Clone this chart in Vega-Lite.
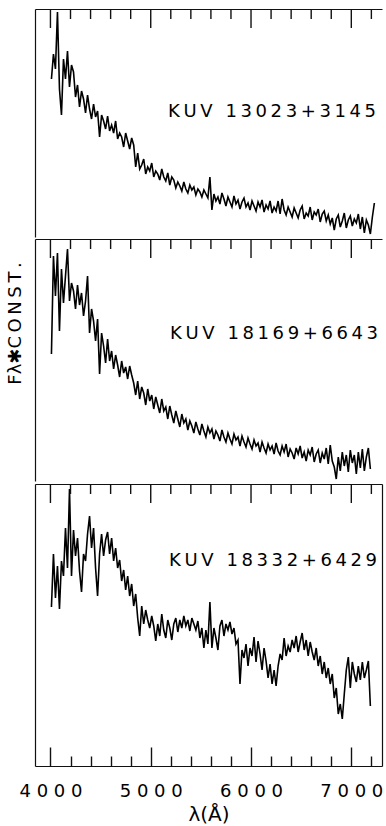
{
  "$schema": "https://vega.github.io/schema/vega-lite/v6.json",
  "padding": {"left": 6, "top": 8, "right": 1, "bottom": 0},
  "autosize": {"type": "pad"},
  "background": "white",
  "config": {
    "view": {"stroke": null},
    "axis": {"grid": false, "domainColor": "#111111", "domainWidth": 1.2, "tickColor": "#111111", "tickWidth": 1.4}
  },
  "datasets": {
    "tmaj": [{"w":4000},{"w":5000},{"w":6000},{"w":7000}],
    "tmin": [{"w":4200},{"w":4400},{"w":4600},{"w":4800},{"w":5200},{"w":5400},{"w":5600},{"w":5800},{"w":6200},{"w":6400},{"w":6600},{"w":6800},{"w":7200}],
    "a": [
      {"w":4010,"f":158},{"w":4030,"f":183},{"w":4050,"f":168},{"w":4070,"f":225},{"w":4090,"f":148},{"w":4110,"f":122},{"w":4130,"f":178},{"w":4150,"f":158},{"w":4170,"f":186},{"w":4190,"f":150},
      {"w":4210,"f":172},{"w":4230,"f":165},{"w":4250,"f":140},{"w":4270,"f":152},{"w":4290,"f":130},{"w":4310,"f":146},{"w":4330,"f":138},{"w":4350,"f":124},{"w":4370,"f":142},{"w":4390,"f":128},
      {"w":4410,"f":118},{"w":4430,"f":133},{"w":4450,"f":120},{"w":4470,"f":126},{"w":4490,"f":100},{"w":4510,"f":122},{"w":4530,"f":116},{"w":4550,"f":108},{"w":4570,"f":121},{"w":4590,"f":106},
      {"w":4610,"f":112},{"w":4630,"f":104},{"w":4650,"f":116},{"w":4670,"f":98},{"w":4690,"f":104},{"w":4710,"f":100},{"w":4730,"f":90},{"w":4750,"f":104},{"w":4770,"f":96},{"w":4790,"f":88},
      {"w":4810,"f":99},{"w":4830,"f":92},{"w":4850,"f":70},{"w":4870,"f":84},{"w":4890,"f":68},{"w":4910,"f":72},{"w":4930,"f":78},{"w":4950,"f":63},{"w":4970,"f":70},{"w":4990,"f":66},
      {"w":5010,"f":74},{"w":5030,"f":60},{"w":5050,"f":66},{"w":5070,"f":63},{"w":5090,"f":57},{"w":5110,"f":68},{"w":5130,"f":60},{"w":5150,"f":56},{"w":5170,"f":64},{"w":5190,"f":52},
      {"w":5210,"f":60},{"w":5230,"f":57},{"w":5250,"f":49},{"w":5270,"f":55},{"w":5290,"f":51},{"w":5310,"f":46},{"w":5330,"f":55},{"w":5350,"f":48},{"w":5370,"f":44},{"w":5390,"f":52},
      {"w":5410,"f":47},{"w":5430,"f":50},{"w":5450,"f":42},{"w":5470,"f":48},{"w":5490,"f":45},{"w":5510,"f":40},{"w":5530,"f":47},{"w":5550,"f":43},{"w":5570,"f":39},{"w":5590,"f":60},
      {"w":5610,"f":27},{"w":5630,"f":43},{"w":5650,"f":36},{"w":5670,"f":40},{"w":5690,"f":33},{"w":5710,"f":44},{"w":5730,"f":38},{"w":5750,"f":31},{"w":5770,"f":40},{"w":5790,"f":35},
      {"w":5810,"f":30},{"w":5830,"f":41},{"w":5850,"f":33},{"w":5870,"f":37},{"w":5890,"f":28},{"w":5910,"f":35},{"w":5930,"f":39},{"w":5950,"f":30},{"w":5970,"f":34},{"w":5990,"f":27},
      {"w":6010,"f":36},{"w":6030,"f":31},{"w":6050,"f":26},{"w":6070,"f":35},{"w":6090,"f":30},{"w":6110,"f":37},{"w":6130,"f":25},{"w":6150,"f":32},{"w":6170,"f":28},{"w":6190,"f":36},
      {"w":6210,"f":24},{"w":6230,"f":30},{"w":6250,"f":26},{"w":6270,"f":36},{"w":6290,"f":23},{"w":6310,"f":38},{"w":6330,"f":27},{"w":6350,"f":22},{"w":6370,"f":30},{"w":6390,"f":25},
      {"w":6410,"f":20},{"w":6430,"f":29},{"w":6450,"f":24},{"w":6470,"f":19},{"w":6490,"f":27},{"w":6510,"f":31},{"w":6530,"f":18},{"w":6550,"f":24},{"w":6570,"f":21},{"w":6590,"f":30},
      {"w":6610,"f":17},{"w":6630,"f":25},{"w":6650,"f":22},{"w":6670,"f":28},{"w":6690,"f":15},{"w":6710,"f":23},{"w":6730,"f":26},{"w":6750,"f":16},{"w":6770,"f":22},{"w":6790,"f":13},
      {"w":6810,"f":19},{"w":6830,"f":7},{"w":6850,"f":18},{"w":6870,"f":22},{"w":6890,"f":10},{"w":6910,"f":16},{"w":6930,"f":24},{"w":6950,"f":9},{"w":6970,"f":17},{"w":6990,"f":21},
      {"w":7010,"f":11},{"w":7030,"f":18},{"w":7050,"f":14},{"w":7070,"f":23},{"w":7090,"f":8},{"w":7110,"f":20},{"w":7130,"f":4},{"w":7150,"f":17},{"w":7170,"f":12},{"w":7190,"f":3},
      {"w":7210,"f":20},{"w":7230,"f":34}
    ],
    "b": [
      {"w":4010,"f":127},{"w":4030,"f":225},{"w":4050,"f":185},{"w":4070,"f":228},{"w":4090,"f":150},{"w":4110,"f":212},{"w":4130,"f":178},{"w":4150,"f":205},{"w":4170,"f":232},{"w":4190,"f":180},
      {"w":4210,"f":198},{"w":4230,"f":190},{"w":4250,"f":172},{"w":4270,"f":196},{"w":4290,"f":176},{"w":4310,"f":188},{"w":4330,"f":165},{"w":4350,"f":180},{"w":4370,"f":205},{"w":4390,"f":148},
      {"w":4410,"f":172},{"w":4430,"f":160},{"w":4450,"f":140},{"w":4470,"f":162},{"w":4490,"f":107},{"w":4510,"f":148},{"w":4530,"f":135},{"w":4550,"f":118},{"w":4570,"f":142},{"w":4590,"f":120},
      {"w":4610,"f":130},{"w":4630,"f":112},{"w":4650,"f":126},{"w":4670,"f":116},{"w":4690,"f":104},{"w":4710,"f":120},{"w":4730,"f":108},{"w":4750,"f":114},{"w":4770,"f":102},{"w":4790,"f":115},
      {"w":4810,"f":106},{"w":4830,"f":98},{"w":4850,"f":86},{"w":4870,"f":100},{"w":4890,"f":82},{"w":4910,"f":94},{"w":4930,"f":88},{"w":4950,"f":76},{"w":4970,"f":92},{"w":4990,"f":80},
      {"w":5010,"f":86},{"w":5030,"f":72},{"w":5050,"f":84},{"w":5070,"f":76},{"w":5090,"f":68},{"w":5110,"f":82},{"w":5130,"f":70},{"w":5150,"f":74},{"w":5170,"f":62},{"w":5190,"f":75},
      {"w":5210,"f":66},{"w":5230,"f":58},{"w":5250,"f":70},{"w":5270,"f":62},{"w":5290,"f":54},{"w":5310,"f":67},{"w":5330,"f":58},{"w":5350,"f":62},{"w":5370,"f":51},{"w":5390,"f":60},
      {"w":5410,"f":55},{"w":5430,"f":48},{"w":5450,"f":59},{"w":5470,"f":52},{"w":5490,"f":46},{"w":5510,"f":57},{"w":5530,"f":50},{"w":5550,"f":44},{"w":5570,"f":54},{"w":5590,"f":48},
      {"w":5610,"f":52},{"w":5630,"f":42},{"w":5650,"f":50},{"w":5670,"f":46},{"w":5690,"f":40},{"w":5710,"f":51},{"w":5730,"f":44},{"w":5750,"f":39},{"w":5770,"f":48},{"w":5790,"f":42},
      {"w":5810,"f":37},{"w":5830,"f":47},{"w":5850,"f":41},{"w":5870,"f":44},{"w":5890,"f":35},{"w":5910,"f":45},{"w":5930,"f":39},{"w":5950,"f":34},{"w":5970,"f":43},{"w":5990,"f":37},
      {"w":6010,"f":32},{"w":6030,"f":41},{"w":6050,"f":35},{"w":6070,"f":38},{"w":6090,"f":29},{"w":6110,"f":39},{"w":6130,"f":33},{"w":6150,"f":28},{"w":6170,"f":37},{"w":6190,"f":31},
      {"w":6210,"f":35},{"w":6230,"f":27},{"w":6250,"f":38},{"w":6270,"f":30},{"w":6290,"f":26},{"w":6310,"f":35},{"w":6330,"f":29},{"w":6350,"f":37},{"w":6370,"f":24},{"w":6390,"f":32},
      {"w":6410,"f":28},{"w":6430,"f":22},{"w":6450,"f":33},{"w":6470,"f":27},{"w":6490,"f":35},{"w":6510,"f":23},{"w":6530,"f":29},{"w":6550,"f":20},{"w":6570,"f":31},{"w":6590,"f":26},
      {"w":6610,"f":34},{"w":6630,"f":19},{"w":6650,"f":27},{"w":6670,"f":31},{"w":6690,"f":18},{"w":6710,"f":28},{"w":6730,"f":22},{"w":6750,"f":33},{"w":6770,"f":17},{"w":6790,"f":36},
      {"w":6810,"f":20},{"w":6830,"f":14},{"w":6850,"f":2},{"w":6870,"f":24},{"w":6890,"f":10},{"w":6910,"f":29},{"w":6930,"f":15},{"w":6950,"f":26},{"w":6970,"f":9},{"w":6990,"f":31},
      {"w":7010,"f":18},{"w":7030,"f":26},{"w":7050,"f":7},{"w":7070,"f":29},{"w":7090,"f":13},{"w":7110,"f":32},{"w":7130,"f":10},{"w":7150,"f":24},{"w":7170,"f":33},{"w":7190,"f":12}
    ],
    "c": [
      {"w":4010,"f":159},{"w":4030,"f":212},{"w":4050,"f":168},{"w":4070,"f":200},{"w":4090,"f":157},{"w":4110,"f":205},{"w":4130,"f":190},{"w":4150,"f":238},{"w":4170,"f":198},{"w":4190,"f":277},
      {"w":4210,"f":190},{"w":4230,"f":236},{"w":4250,"f":210},{"w":4270,"f":228},{"w":4290,"f":195},{"w":4310,"f":174},{"w":4330,"f":212},{"w":4350,"f":205},{"w":4370,"f":232},{"w":4390,"f":250},
      {"w":4410,"f":218},{"w":4430,"f":238},{"w":4450,"f":198},{"w":4470,"f":170},{"w":4490,"f":212},{"w":4510,"f":232},{"w":4530,"f":210},{"w":4550,"f":226},{"w":4570,"f":234},{"w":4590,"f":212},
      {"w":4610,"f":228},{"w":4630,"f":205},{"w":4650,"f":218},{"w":4670,"f":198},{"w":4690,"f":206},{"w":4710,"f":185},{"w":4730,"f":196},{"w":4750,"f":176},{"w":4770,"f":190},{"w":4790,"f":170},
      {"w":4810,"f":182},{"w":4830,"f":160},{"w":4850,"f":172},{"w":4870,"f":148},{"w":4890,"f":130},{"w":4910,"f":160},{"w":4930,"f":142},{"w":4950,"f":156},{"w":4970,"f":146},{"w":4990,"f":138},
      {"w":5010,"f":150},{"w":5030,"f":140},{"w":5050,"f":125},{"w":5070,"f":142},{"w":5090,"f":130},{"w":5110,"f":152},{"w":5130,"f":136},{"w":5150,"f":128},{"w":5170,"f":146},{"w":5190,"f":138},
      {"w":5210,"f":126},{"w":5230,"f":142},{"w":5250,"f":148},{"w":5270,"f":134},{"w":5290,"f":146},{"w":5310,"f":138},{"w":5330,"f":150},{"w":5350,"f":140},{"w":5370,"f":146},{"w":5390,"f":135},
      {"w":5410,"f":148},{"w":5430,"f":142},{"w":5450,"f":136},{"w":5470,"f":145},{"w":5490,"f":128},{"w":5510,"f":138},{"w":5530,"f":118},{"w":5550,"f":136},{"w":5570,"f":122},{"w":5590,"f":164},
      {"w":5610,"f":118},{"w":5630,"f":138},{"w":5650,"f":128},{"w":5670,"f":116},{"w":5690,"f":140},{"w":5710,"f":146},{"w":5730,"f":130},{"w":5750,"f":142},{"w":5770,"f":136},{"w":5790,"f":144},
      {"w":5810,"f":132},{"w":5830,"f":138},{"w":5850,"f":122},{"w":5870,"f":126},{"w":5890,"f":82},{"w":5910,"f":116},{"w":5930,"f":108},{"w":5950,"f":122},{"w":5970,"f":100},{"w":5990,"f":118},
      {"w":6010,"f":110},{"w":6030,"f":129},{"w":6050,"f":104},{"w":6070,"f":125},{"w":6090,"f":112},{"w":6110,"f":96},{"w":6130,"f":118},{"w":6150,"f":105},{"w":6170,"f":88},{"w":6190,"f":102},
      {"w":6210,"f":82},{"w":6230,"f":96},{"w":6250,"f":80},{"w":6270,"f":100},{"w":6290,"f":112},{"w":6310,"f":106},{"w":6330,"f":128},{"w":6350,"f":110},{"w":6370,"f":120},{"w":6390,"f":114},
      {"w":6410,"f":126},{"w":6430,"f":118},{"w":6450,"f":130},{"w":6470,"f":114},{"w":6490,"f":124},{"w":6510,"f":133},{"w":6530,"f":116},{"w":6550,"f":126},{"w":6570,"f":110},{"w":6590,"f":124},
      {"w":6610,"f":114},{"w":6630,"f":106},{"w":6650,"f":118},{"w":6670,"f":100},{"w":6690,"f":110},{"w":6710,"f":92},{"w":6730,"f":104},{"w":6750,"f":88},{"w":6770,"f":98},{"w":6790,"f":82},
      {"w":6810,"f":92},{"w":6830,"f":68},{"w":6850,"f":78},{"w":6870,"f":52},{"w":6890,"f":62},{"w":6910,"f":47},{"w":6930,"f":72},{"w":6950,"f":96},{"w":6970,"f":109},{"w":6990,"f":78},
      {"w":7010,"f":104},{"w":7030,"f":92},{"w":7050,"f":84},{"w":7070,"f":100},{"w":7090,"f":86},{"w":7110,"f":104},{"w":7130,"f":88},{"w":7150,"f":96},{"w":7170,"f":105},{"w":7190,"f":60}
    ]
  },
  "spacing": 0,
  "resolve": {"scale": {"x": "independent", "y": "independent"}, "axis": {"x": "independent", "y": "independent"}},
  "vconcat": [
    {
      "width": 347,
      "height": 228,
      "resolve": {"axis": {"x": "independent", "y": "independent"}},
      "layer": [
        {
          "data": {"name": "a"},
          "mark": {"type": "line", "color": "black", "strokeWidth": 1.6},
          "encoding": {
            "x": {"field": "w", "type": "quantitative", "scale": {"domain": [3846, 7306], "nice": false, "zero": false},
              "axis": {"orient": "top", "ticks": false, "labels": false, "title": null}},
            "y": {"field": "f", "type": "quantitative", "scale": {"domain": [0, 228], "nice": false},
              "axis": {"orient": "left", "ticks": false, "labels": false, "title": null}}
          }
        },
        {
          "data": {"name": "tmaj"},
          "mark": {"type": "rule", "color": "#111111", "strokeWidth": 1.4},
          "encoding": {
            "x": {"field": "w", "type": "quantitative", "axis": null},
            "y": {"datum": 228, "type": "quantitative", "axis": null},
            "y2": {"datum": 209}
          }
        },
        {
          "data": {"name": "tmin"},
          "mark": {"type": "rule", "color": "#111111", "strokeWidth": 1.4},
          "encoding": {
            "x": {"field": "w", "type": "quantitative", "axis": null},
            "y": {"datum": 228, "type": "quantitative", "axis": null},
            "y2": {"datum": 218}
          }
        },
        {
          "data": {"values": [{"t": "K\u2009U\u2009V\u2009 \u20091\u20093\u20090\u20092\u20093\u2009+\u20093\u20091\u20094\u20095"}]},
          "mark": {"type": "text", "align": "right", "baseline": "middle", "font": "DejaVu Sans", "fontSize": 18, "color": "black"},
          "encoding": {
            "x": {"datum": 7246, "type": "quantitative", "axis": null},
            "y": {"datum": 125, "type": "quantitative", "axis": null},
            "text": {"field": "t"}
          }
        }
      ]
    },
    {
      "width": 347,
      "height": 242,
      "resolve": {"axis": {"x": "independent", "y": "independent"}},
      "layer": [
        {
          "data": {"name": "b"},
          "mark": {"type": "line", "color": "black", "strokeWidth": 1.6},
          "encoding": {
            "x": {"field": "w", "type": "quantitative", "scale": {"domain": [3846, 7306], "nice": false, "zero": false},
              "axis": {"orient": "top", "ticks": false, "labels": false, "title": null}},
            "y": {"field": "f", "type": "quantitative", "scale": {"domain": [0, 242], "nice": false},
              "axis": {"orient": "left", "ticks": false, "labels": false,
                "title": "Fλ✱C\u2009O\u2009N\u2009S\u2009T\u2009.",
                "titleFont": "DejaVu Sans", "titleFontWeight": "normal", "titleColor": "black",
                "titleFontSize": 18, "titleX": -20, "titleY": 84, "titleAngle": -90, "titleAlign": "center", "titleBaseline": "middle"}}
          }
        },
        {
          "data": {"name": "tmaj"},
          "mark": {"type": "rule", "color": "#111111", "strokeWidth": 1.4},
          "encoding": {
            "x": {"field": "w", "type": "quantitative", "axis": null},
            "y": {"datum": 242, "type": "quantitative", "axis": null},
            "y2": {"datum": 223}
          }
        },
        {
          "data": {"name": "tmin"},
          "mark": {"type": "rule", "color": "#111111", "strokeWidth": 1.4},
          "encoding": {
            "x": {"field": "w", "type": "quantitative", "axis": null},
            "y": {"datum": 242, "type": "quantitative", "axis": null},
            "y2": {"datum": 232}
          }
        },
        {
          "data": {"values": [{"t": "K\u2009U\u2009V\u2009 \u20091\u20098\u20091\u20096\u20099\u2009+\u20096\u20096\u20094\u20093"}]},
          "mark": {"type": "text", "align": "right", "baseline": "middle", "font": "DejaVu Sans", "fontSize": 18, "color": "black"},
          "encoding": {
            "x": {"datum": 7266, "type": "quantitative", "axis": null},
            "y": {"datum": 147, "type": "quantitative", "axis": null},
            "text": {"field": "t"}
          }
        }
      ]
    },
    {
      "width": 347,
      "height": 282,
      "resolve": {"axis": {"x": "independent", "y": "independent"}},
      "layer": [
        {
          "data": {"name": "c"},
          "mark": {"type": "line", "color": "black", "strokeWidth": 1.6},
          "encoding": {
            "x": {"field": "w", "type": "quantitative", "scale": {"domain": [3846, 7306], "nice": false, "zero": false},
              "axis": {"orient": "top", "ticks": false, "labels": false, "title": null}},
            "y": {"field": "f", "type": "quantitative", "scale": {"domain": [0, 282], "nice": false},
              "axis": {"orient": "left", "ticks": false, "labels": false, "title": null}}
          }
        },
        {
          "data": {"name": "tmaj"},
          "mark": {"type": "rule", "color": "#111111", "strokeWidth": 1.4},
          "encoding": {
            "x": {"field": "w", "type": "quantitative", "axis": null},
            "y": {"datum": 282, "type": "quantitative", "axis": null},
            "y2": {"datum": 263}
          }
        },
        {
          "data": {"name": "tmin"},
          "mark": {"type": "rule", "color": "#111111", "strokeWidth": 1.4},
          "encoding": {
            "x": {"field": "w", "type": "quantitative", "axis": null},
            "y": {"datum": 282, "type": "quantitative", "axis": null},
            "y2": {"datum": 272}
          }
        },
        {
          "data": {"values": [{"t": "K\u2009U\u2009V\u2009 \u20091\u20098\u20093\u20093\u20092\u2009+\u20096\u20094\u20092\u20099"}]},
          "mark": {"type": "text", "align": "right", "baseline": "middle", "font": "DejaVu Sans", "fontSize": 18, "color": "black"},
          "encoding": {
            "x": {"datum": 7256, "type": "quantitative",
              "axis": {"orient": "bottom", "values": [4000,4200,4400,4600,4800,5000,5200,5400,5600,5800,6000,6200,6400,6600,6800,7000,7200],
                "labelExpr": "datum.value % 1000 === 0 ? join(split(datum.label, ''), ' ') : ''",
                "labelFont": "DejaVu Sans", "labelFontSize": 18, "labelColor": "black",
                "format": "d", "labelFlush": false, "labelPadding": 35, "labelOverlap": false,
                "title": "λ(Å)", "titlePadding": -5,
                "titleFont": "DejaVu Sans", "titleFontSize": 20, "titleFontWeight": "normal", "titleColor": "black",
                "tickSize": {"condition": {"test": "datum.value % 1000 === 0", "value": -19}, "value": -10}}},
            "y": {"datum": 205, "type": "quantitative",
              "axis": {"orient": "right", "ticks": false, "labels": false, "title": null}},
            "text": {"field": "t"}
          }
        }
      ]
    }
  ]
}
